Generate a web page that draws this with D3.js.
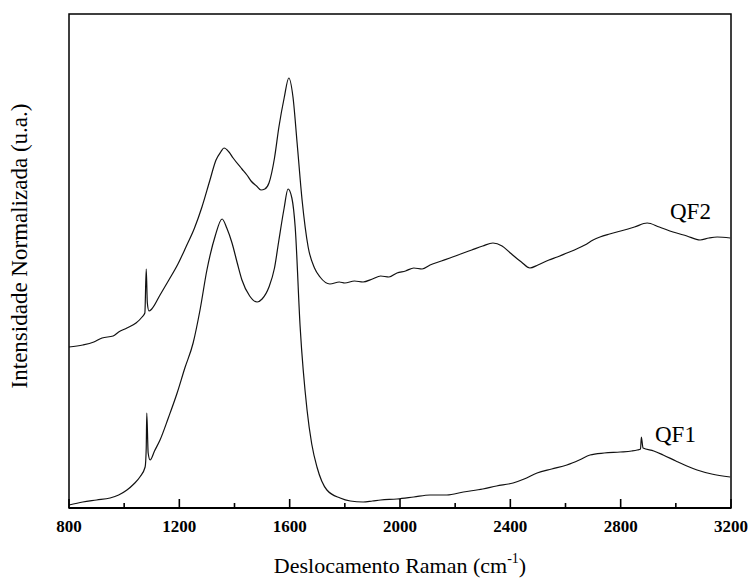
<!DOCTYPE html>
<html>
<head>
<meta charset="utf-8">
<script src="https://cdn.jsdelivr.net/npm/d3@7"></script>
<style>
  body { margin: 0; background: #fff; }
  text { font-family: "Liberation Serif", "Times New Roman", serif; }
</style>
</head>
<body>
<div id="chart"></div>
<script>
// Raman shift (cm-1) and normalized intensity (a.u.)
const qf2Shift = [800, 850, 890, 920, 960, 980, 1010, 1043, 1065, 1075, 1080, 1084, 1090, 1100, 1130, 1162, 1195, 1224, 1255, 1282, 1310, 1333, 1350, 1362, 1380, 1395, 1427, 1445, 1460, 1480, 1496, 1510, 1525, 1545, 1561, 1580, 1597, 1612, 1627, 1645, 1667, 1690, 1710, 1746, 1780, 1800, 1835, 1866, 1900, 1930, 1960, 1989, 2020, 2050, 2080, 2109, 2150, 2181, 2220, 2260, 2300, 2337, 2370, 2400, 2440, 2471, 2500, 2540, 2570, 2605, 2640, 2670, 2700, 2725, 2760, 2800, 2850, 2896, 2940, 2990, 3040, 3088, 3120, 3150, 3197];
const qf2Value = [161, 163, 166, 170, 172, 176, 180, 185, 191, 195, 239, 205, 197, 199, 213, 228, 244, 261, 280, 301, 327, 348, 356, 360, 356, 350, 339, 333, 327, 322, 318, 319, 325, 350, 381, 410, 430, 411, 365, 308, 261, 240, 231, 224, 226, 225, 227, 226, 229, 232, 231, 235, 237, 240, 239, 243, 247, 250, 254, 258, 262, 265, 262, 255, 246, 240, 243, 248, 251, 255, 259, 263, 268, 271, 274, 277, 281, 285, 281, 276, 272, 268, 270, 271, 270];

const qf1Shift = [800, 850, 900, 949, 980, 1010, 1035, 1057, 1076, 1080, 1082, 1087, 1094, 1110, 1130, 1160, 1192, 1220, 1250, 1275, 1300, 1330, 1355, 1372, 1391, 1410, 1427, 1455, 1482, 1500, 1525, 1545, 1561, 1580, 1594, 1608, 1620, 1638, 1663, 1680, 1699, 1735, 1783, 1820, 1866, 1900, 1930, 1989, 2050, 2109, 2170, 2230, 2300, 2350, 2410, 2450, 2497, 2550, 2605, 2650, 2689, 2740, 2798, 2840, 2860, 2872, 2875, 2881, 2920, 2954, 3000, 3040, 3077, 3130, 3197];
const qf1Value = [3, 6, 8, 10, 13, 18, 24, 31, 41, 60, 95, 55, 48, 57, 68, 90, 115, 140, 165, 198, 238, 272, 289, 280, 265, 245, 228, 212, 206, 209, 221, 240, 268, 300, 319, 310, 281, 181, 98, 64, 41, 18, 10, 7, 6, 7, 8, 9, 11, 13, 13, 16, 19, 22, 25, 29, 35, 39, 43, 48, 53, 55, 56, 57, 58, 59, 71, 60, 57, 53, 47, 42, 38, 34, 31];

const xTicks = [800, 1200, 1600, 2000, 2400, 2800, 3200];
const xMinorTicks = [1000, 1400, 1800, 2200, 2600, 3000];

const width = 752, height = 580;
const margin = { left: 69, right: 21, top: 14, bottom: 72 };

const svg = d3.select("#chart").append("svg")
  .attr("width", width)
  .attr("height", height);

const x = d3.scaleLinear().domain([800, 3200]).range([margin.left, width - margin.right]);
const y = d3.scaleLinear().domain([0, 494]).range([height - margin.bottom, margin.top]);

function series(shift, value) {
  return shift.map((s, i) => ({ x: s, y: value[i] }));
}

const line = d3.line()
  .x(d => x(d.x))
  .y(d => y(d.y))
  .curve(d3.curveMonotoneX);

// spectra
[series(qf2Shift, qf2Value), series(qf1Shift, qf1Value)].forEach(function(d) {
  svg.append("path")
    .datum(d)
    .attr("d", line)
    .attr("fill", "none")
    .attr("stroke", "#111")
    .attr("stroke-width", 1.2)
    .attr("stroke-linejoin", "round");
});

// frame
svg.append("rect")
  .attr("x", x(800)).attr("y", y(494))
  .attr("width", x(3200) - x(800)).attr("height", y(0) - y(494))
  .attr("fill", "none").attr("stroke", "#000").attr("stroke-width", 1.5);

// bottom axis, ticks pointing inward
const axisG = svg.append("g").attr("transform", "translate(0," + y(0) + ")");
axisG.append("line").attr("x1", x(800)).attr("x2", x(3200))
  .attr("stroke", "#000").attr("stroke-width", 2);
axisG.selectAll(".major").data(xTicks).enter().append("line")
  .attr("x1", d => x(d)).attr("x2", d => x(d)).attr("y1", 0).attr("y2", -9)
  .attr("stroke", "#000").attr("stroke-width", 1.6);
axisG.selectAll(".minor").data(xMinorTicks).enter().append("line")
  .attr("x1", d => x(d)).attr("x2", d => x(d)).attr("y1", 0).attr("y2", -5)
  .attr("stroke", "#000").attr("stroke-width", 1.6);
axisG.selectAll(".lbl").data(xTicks).enter().append("text")
  .attr("x", d => x(d)).attr("y", 24)
  .attr("text-anchor", "middle")
  .attr("font-size", 17).attr("font-weight", "bold")
  .text(d => d);

// axis titles
const xt = svg.append("text")
  .attr("x", 400).attr("y", 573)
  .attr("text-anchor", "middle")
  .attr("font-size", 22);
xt.append("tspan").text("Deslocamento Raman (cm");
xt.append("tspan").attr("font-size", 14).attr("dy", -10).text("-1");
xt.append("tspan").attr("dy", 10).text(")");

svg.append("text")
  .attr("transform", "translate(27,246) rotate(-90)")
  .attr("text-anchor", "middle")
  .attr("font-size", 23)
  .text("Intensidade Normalizada (u.a.)");

// series labels
svg.append("text").attr("x", 670).attr("y", 219).attr("font-size", 23).text("QF2");
svg.append("text").attr("x", 655).attr("y", 442).attr("font-size", 23).text("QF1");
</script>
</body>
</html>
